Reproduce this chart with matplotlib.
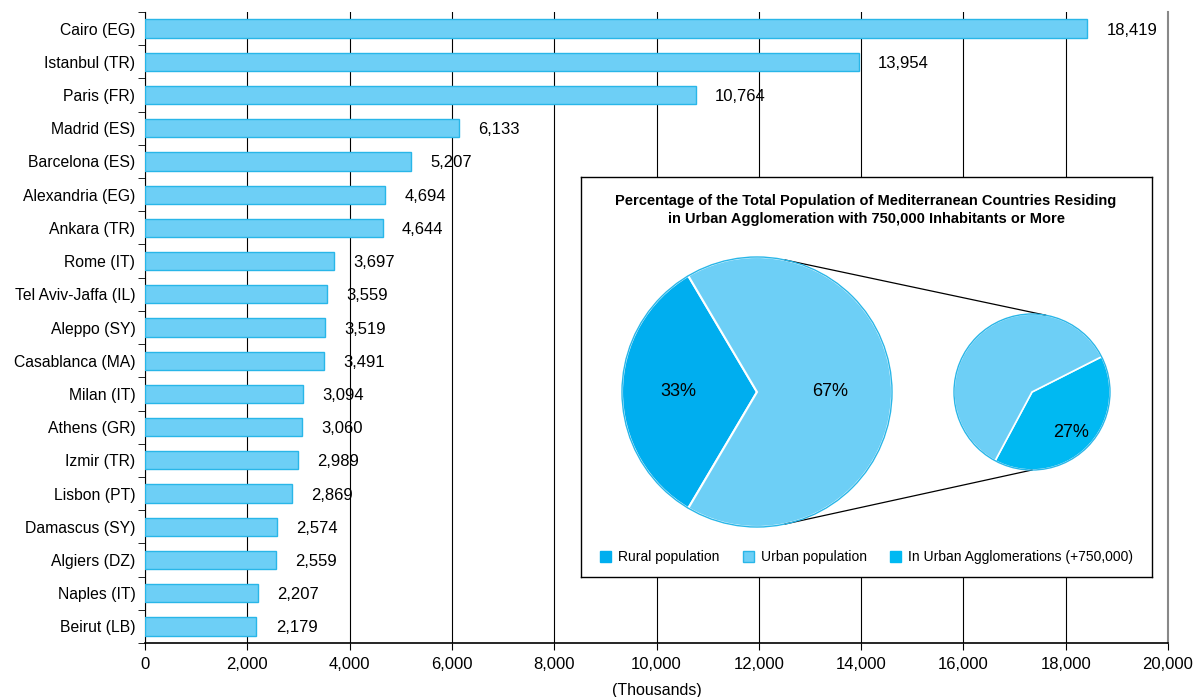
import numpy as np
import matplotlib
matplotlib.use('Agg')
import matplotlib.pyplot as plt
from matplotlib.patches import Patch, Circle

plt.rcParams['font.family'] = ['Liberation Sans', 'DejaVu Sans']

cities = ['Cairo (EG)', 'Istanbul (TR)', 'Paris (FR)', 'Madrid (ES)', 'Barcelona (ES)',
          'Alexandria (EG)', 'Ankara (TR)', 'Rome (IT)', 'Tel Aviv-Jaffa (IL)', 'Aleppo (SY)',
          'Casablanca (MA)', 'Milan (IT)', 'Athens (GR)', 'Izmir (TR)', 'Lisbon (PT)',
          'Damascus (SY)', 'Algiers (DZ)', 'Naples (IT)', 'Beirut (LB)']
population = [18419, 13954, 10764, 6133, 5207, 4694, 4644, 3697, 3559, 3519,
              3491, 3094, 3060, 2989, 2869, 2574, 2559, 2207, 2179]

main_labels = ['Rural population', 'Urban population']
main_share = [33, 67]
agglo_share = 27
legend_labels = ['Rural population', 'Urban population', 'In Urban Agglomerations (+750,000)']

light = '#6dcff6'
edge = '#29b6e8'
dark = '#00aeef'
agglo = '#00b9f2'

fig = plt.figure(figsize=(11.97, 6.97), dpi=100)
ax = fig.add_axes([145/1197, 1-643/697, 1023/1197, 631/697])

y = np.arange(len(cities))
ax.barh(y, population, height=0.55, color=light, edgecolor=edge, linewidth=1, zorder=3)
for yi, v in zip(y, population):
    ax.annotate(f'{v:,}', (v, yi), xytext=(14, 0), textcoords='offset points',
                va='center_baseline', ha='left', fontsize=12)

ax.set_ylim(len(cities) - 0.5, -0.5)
ax.set_xlim(0, 20000)
ax.set_yticks(y)
ax.set_yticklabels(cities, fontsize=11.3)
ax.set_yticks(np.arange(len(cities) + 1) - 0.5, minor=True)
ax.tick_params(axis='y', which='major', length=0, pad=7)
ax.tick_params(axis='y', which='minor', length=5, direction='out')
xt = np.arange(0, 20001, 2000)
ax.set_xticks(xt)
ax.set_xticklabels([f'{t:,}' for t in xt], fontsize=12)
ax.tick_params(axis='x', length=5, direction='out', pad=5)
ax.xaxis.grid(True, color='black', linewidth=0.8, zorder=0)
ax.set_axisbelow(True)
ax.set_xlabel('(Thousands)', fontsize=11.5, labelpad=8)
ax.spines['top'].set_visible(False)
ax.spines['right'].set_color('#888888')
ax.spines['right'].set_linewidth(1.5)
ax.spines['bottom'].set_linewidth(1.2)

# inset with pie of pie
ins = fig.add_axes([581/1197, 1-577/697, 571/1197, 400/697])
ins.set_facecolor('white')
main_c, main_r = (176, 185), 135
small_c, small_r = (451, 185), 78

w1, _ = ins.pie(main_share, colors=[dark, light], startangle=120.6, center=main_c,
                radius=main_r, frame=True,
                wedgeprops=dict(edgecolor='white', linewidth=1.5))
rest = main_share[1] - agglo_share
w2, _ = ins.pie([agglo_share, rest], colors=[agglo, light], startangle=241.8,
                center=small_c, radius=small_r, frame=True,
                wedgeprops=dict(edgecolor='white', linewidth=1.2))
ins.add_patch(Circle(main_c, main_r, fill=False, edgecolor=edge, linewidth=1, zorder=5))
ins.add_patch(Circle(small_c, small_r, fill=False, edgecolor=edge, linewidth=1, zorder=5))

def put_label(w, c, r, frac, txt):
    mid = np.deg2rad((w.theta1 + w.theta2) / 2)
    ins.text(c[0] + frac * r * np.cos(mid), c[1] + frac * r * np.sin(mid), txt,
             ha='center', va='center', fontsize=13, zorder=6)

put_label(w1[0], main_c, main_r, 0.58, f'{main_share[0]}%')
put_label(w1[1], main_c, main_r, 0.54, f'{main_share[1]}%')
put_label(w2[0], small_c, small_r, 0.72, f'{agglo_share}%')

def on_circle(c, r, deg):
    a = np.deg2rad(deg)
    return c[0] + r * np.cos(a), c[1] + r * np.sin(a)

for a1, a2 in [(78, 80), (-78, -90)]:
    p1 = on_circle(main_c, main_r, a1)
    p2 = on_circle(small_c, small_r, a2)
    ins.plot([p1[0], p2[0]], [p1[1], p2[1]], color='black', linewidth=0.9, zorder=1)

ins.set_xlim(0, 571)
ins.set_ylim(0, 400)
ins.set_aspect('auto')
ins.set_xticks([])
ins.set_yticks([])
for s in ins.spines.values():
    s.set_linewidth(1)
    s.set_color('black')

ins.text(285, 367, 'Percentage of the Total Population of Mediterranean Countries Residing\n'
         'in Urban Agglomeration with 750,000 Inhabitants or More',
         ha='center', va='center', fontsize=10.5, fontweight='bold', linespacing=1.3)

handles = [Patch(facecolor=dark, edgecolor=dark),
           Patch(facecolor=light, edgecolor=edge),
           Patch(facecolor=agglo, edgecolor=agglo)]
ins.legend(handles, legend_labels, ncol=3, loc='lower center', bbox_to_anchor=(0.5, 0.0),
           frameon=False, fontsize=10, handlelength=0.8, handleheight=0.8,
           handletextpad=0.5, columnspacing=1.7)

fig.savefig('out.png', dpi=100)
